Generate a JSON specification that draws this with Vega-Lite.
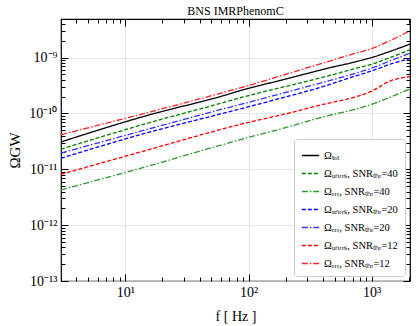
{
  "$schema": "https://vega.github.io/schema/vega-lite/v6.json",
  "autosize": "none",
  "width": 349,
  "height": 262,
  "padding": {"left": 61, "top": 19, "right": 6, "bottom": 45},
  "background": "white",
  "title": {"text": "BNS IMRPhenomC", "font": "Liberation Serif", "fontSize": 12, "fontWeight": "normal", "offset": -1, "color": "black"},
  "config": {
    "view": {"stroke": "black", "strokeWidth": 1.2},
    "axis": {"labelFont": "Liberation Serif", "titleFont": "Liberation Serif", "labelColor": "black", "titleColor": "black", "titleFontWeight": "normal", "domainColor": "black", "tickColor": "black", "gridColor": "#dddddd", "gridWidth": 0.8},
    "legend": {"labelFont": "Liberation Serif", "labelFontSize": 10.5, "labelColor": "black"}
  },
  "data": {"values": [
    {"f": 3, "tot": 3.09e-11, "u40": 2.29e-11, "e40": 4.27e-12, "u20": 1.58e-11, "e20": 1.95e-11, "u12": 8.13e-12, "e12": 4.17e-11},
    {"f": 16, "tot": 9.55e-11, "u40": 6.92e-11, "e40": 1.17e-11, "u20": 4.68e-11, "e20": 5.37e-11, "u12": 2.29e-11, "e12": 1.07e-10},
    {"f": 59, "tot": 2.0e-10, "u40": 1.51e-10, "e40": 2.69e-11, "u20": 9.77e-11, "e20": 1.17e-10, "u12": 5.13e-11, "e12": 2.29e-10},
    {"f": 100, "tot": 2.82e-10, "u40": 2.09e-10, "e40": 3.72e-11, "u20": 1.32e-10, "e20": 1.58e-10, "u12": 6.92e-11, "e12": 3.16e-10},
    {"f": 181, "tot": 3.89e-10, "u40": 2.88e-10, "e40": 5.25e-11, "u20": 1.86e-10, "e20": 2.24e-10, "u12": 9.33e-11, "e12": 4.68e-10},
    {"f": 460, "tot": 6.61e-10, "u40": 4.79e-10, "e40": 9.33e-11, "u20": 3.31e-10, "e20": 3.89e-10, "u12": 1.55e-10, "e12": 8.71e-10},
    {"f": 668, "tot": 7.94e-10, "u40": 6.03e-10, "e40": 1.12e-10, "u20": 4.37e-10, "e20": 4.90e-10, "u12": 1.86e-10, "e12": 1.12e-9},
    {"f": 1000, "tot": 1.0e-9, "u40": 7.59e-10, "e40": 1.45e-10, "u20": 5.75e-10, "e20": 6.46e-10, "u12": 2.51e-10, "e12": 1.45e-9},
    {"f": 1409, "tot": 1.29e-9, "u40": 1.0e-9, "e40": 1.95e-10, "u20": 7.59e-10, "e20": 8.71e-10, "u12": 3.80e-10, "e12": 2.0e-9},
    {"f": 2048, "tot": 1.74e-9, "u40": 1.38e-9, "e40": 2.75e-10, "u20": 9.55e-10, "e20": 1.20e-9, "u12": 4.57e-10, "e12": 3.02e-9}
  ]},
  "transform": [{"fold": ["tot", "u40", "e40", "u20", "e20", "u12", "e12"], "as": ["s", "v"]}],
  "layer": [
    {
      "mark": {"type": "line", "interpolate": "monotone", "strokeWidth": 1.3, "clip": true},
      "encoding": {
        "x": {"field": "f", "type": "quantitative",
          "scale": {"type": "log", "domain": [3, 2048], "nice": false},
          "axis": {"title": "f [ Hz ]", "titleFontSize": 14, "titlePadding": 7, "labelFontSize": 14, "labelPadding": 11, "labelOverlap": false,
            "values": [3,4,5,6,7,8,9,10,20,30,40,50,60,70,80,90,100,200,300,400,500,600,700,800,900,1000,2000],
            "labelExpr": "datum.value == 10 ? '10¹' : datum.value == 100 ? '10²' : datum.value == 1000 ? '10³' : ''",
            "tickSize": {"condition": {"test": "datum.value == 10 || datum.value == 100 || datum.value == 1000", "value": -7}, "value": -4},
            "gridOpacity": {"condition": {"test": "datum.value == 10 || datum.value == 100 || datum.value == 1000", "value": 1}, "value": 0},
            "grid": true, "domain": false}},
        "y": {"field": "v", "type": "quantitative",
          "scale": {"type": "log", "domain": [1e-13, 4.9e-9], "nice": false},
          "axis": {"title": "ΩGW", "titleFontSize": 15, "titlePadding": 6, "labelFontSize": 14, "labelPadding": 11, "labelOverlap": false,
            "values": [1e-13,2e-13,3e-13,4e-13,5e-13,6e-13,7e-13,8e-13,9e-13,1e-12,2e-12,3e-12,4e-12,5e-12,6e-12,7e-12,8e-12,9e-12,1e-11,2e-11,3e-11,4e-11,5e-11,6e-11,7e-11,8e-11,9e-11,1e-10,2e-10,3e-10,4e-10,5e-10,6e-10,7e-10,8e-10,9e-10,1e-9,2e-9,3e-9,4e-9],
            "labelExpr": "abs(log(datum.value)/LN10 - round(log(datum.value)/LN10)) < 0.001 ? ['10⁻¹³','10⁻¹²','10⁻¹¹','10⁻¹⁰','10⁻⁹'][round(log(datum.value)/LN10)+13] : ''",
            "tickSize": {"condition": {"test": "abs(log(datum.value)/LN10 - round(log(datum.value)/LN10)) < 0.001", "value": -7}, "value": -4},
            "gridOpacity": {"condition": {"test": "abs(log(datum.value)/LN10 - round(log(datum.value)/LN10)) < 0.001", "value": 1}, "value": 0},
            "grid": true, "domain": false}},
        "color": {"field": "s", "type": "nominal",
          "scale": {"domain": ["tot", "u40", "e40", "u20", "e20", "u12", "e12"], "range": ["#000000", "#008000", "#2a9a2a", "#0000ff", "#3333ff", "#ff0000", "#ff2222"]},
          "legend": {"title": null, "orient": "bottom-right", "offset": 5, "padding": 7, "rowPadding": 3, "symbolType": "stroke", "symbolSize": 300, "symbolStrokeWidth": 1.3, "fillColor": "white", "strokeColor": "#cccccc", "cornerRadius": 3,
            "labelExpr": "{'tot':'Ωₜₒₜ','u40':'Ωᵤₙᵣₑₛ, SNRₜₕᵣ=40','e40':'Ωₑᵣᵣ, SNRₜₕᵣ=40','u20':'Ωᵤₙᵣₑₛ, SNRₜₕᵣ=20','e20':'Ωₑᵣᵣ, SNRₜₕᵣ=20','u12':'Ωᵤₙᵣₑₛ, SNRₜₕᵣ=12','e12':'Ωₑᵣᵣ, SNRₜₕᵣ=12'}[datum.label]"}},
        "strokeDash": {"field": "s", "type": "nominal",
          "scale": {"domain": ["tot", "u40", "e40", "u20", "e20", "u12", "e12"], "range": [[1, 0], [4, 2], [6, 2, 1.5, 2], [4, 2], [6, 2, 1.5, 2], [4, 2], [6, 2, 1.5, 2]]},
          "legend": {"title": null, "orient": "bottom-right", "offset": 5, "padding": 7, "rowPadding": 3, "symbolType": "stroke", "symbolSize": 300, "symbolStrokeWidth": 1.3, "fillColor": "white", "strokeColor": "#cccccc", "cornerRadius": 3,
            "labelExpr": "{'tot':'Ωₜₒₜ','u40':'Ωᵤₙᵣₑₛ, SNRₜₕᵣ=40','e40':'Ωₑᵣᵣ, SNRₜₕᵣ=40','u20':'Ωᵤₙᵣₑₛ, SNRₜₕᵣ=20','e20':'Ωₑᵣᵣ, SNRₜₕᵣ=20','u12':'Ωᵤₙᵣₑₛ, SNRₜₕᵣ=12','e12':'Ωₑᵣᵣ, SNRₜₕᵣ=12'}[datum.label]"}}
      }
    },
    {
      "mark": {"type": "point", "opacity": 0},
      "encoding": {
        "x": {"field": "f", "type": "quantitative",
          "axis": {"orient": "top", "title": null, "labels": false, "grid": false, "domain": false,
            "values": [3,4,5,6,7,8,9,10,20,30,40,50,60,70,80,90,100,200,300,400,500,600,700,800,900,1000,2000],
            "tickSize": {"condition": {"test": "datum.value == 10 || datum.value == 100 || datum.value == 1000", "value": -7}, "value": -4}}},
        "y": {"field": "v", "type": "quantitative",
          "axis": {"orient": "right", "title": null, "labels": false, "grid": false, "domain": false,
            "values": [1e-13,2e-13,3e-13,4e-13,5e-13,6e-13,7e-13,8e-13,9e-13,1e-12,2e-12,3e-12,4e-12,5e-12,6e-12,7e-12,8e-12,9e-12,1e-11,2e-11,3e-11,4e-11,5e-11,6e-11,7e-11,8e-11,9e-11,1e-10,2e-10,3e-10,4e-10,5e-10,6e-10,7e-10,8e-10,9e-10,1e-9,2e-9,3e-9,4e-9],
            "tickSize": {"condition": {"test": "abs(log(datum.value)/LN10 - round(log(datum.value)/LN10)) < 0.001", "value": -7}, "value": -4}}}
      }
    }
  ],
  "resolve": {"axis": {"x": "independent", "y": "independent"}}
}
